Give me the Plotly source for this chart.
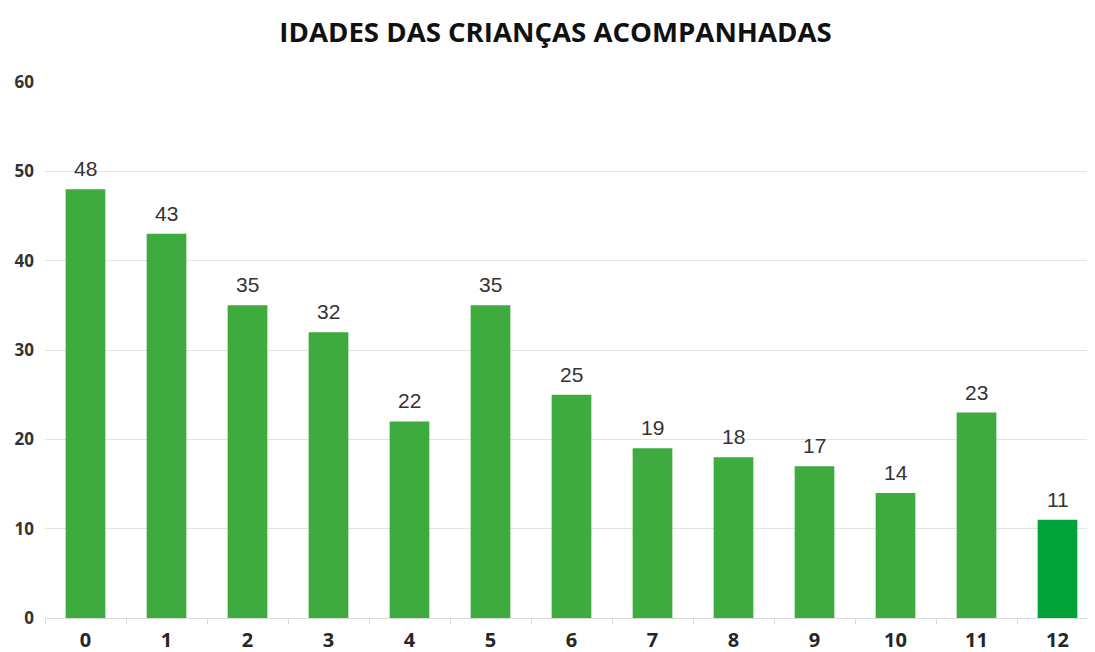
import plotly.graph_objects as go

ages = ["0", "1", "2", "3", "4", "5", "6", "7", "8", "9", "10", "11", "12"]
counts = [48, 43, 35, 32, 22, 35, 25, 19, 18, 17, 14, 23, 11]
bar_colors = ["#3dab3d"] * 12 + ["#00a33a"]
y_ticks = [0, 10, 20, 30, 40, 50, 60]

fig = go.Figure(go.Bar(
    x=ages, y=counts,
    marker=dict(color=bar_colors, line=dict(width=0)),
    width=0.49,
    hoverinfo="x+y",
))

for a, c in zip(ages, counts):
    fig.add_annotation(
        x=a, y=c, text=str(c), showarrow=False,
        xanchor="center", yanchor="bottom", yshift=7,
        font=dict(family="Liberation Sans, Arial", size=21, color="#333333"),
    )

fig.update_layout(
    width=1095, height=652,
    margin=dict(l=37, r=5, t=74, b=42),
    paper_bgcolor="white", plot_bgcolor="white",
    title=dict(text="<b>IDADES DAS CRIANÇAS ACOMPANHADAS</b>",
               x=0.5, xanchor="center", y=0.963, yanchor="middle",
               font=dict(family="Open Sans, Liberation Sans", size=27.6, color="#111111")),
    showlegend=False,
    xaxis=dict(
        type="category",
        showline=True, linecolor="#d9d9d9", linewidth=1,
        ticks="outside", tickson="boundaries", ticklen=5, tickcolor="#d9d9d9",
        ticklabelstandoff=4,
        tickfont=dict(family="Open Sans, Liberation Sans", size=20, color="#262626", weight="bold"),
        showgrid=False,
    ),
    yaxis=dict(
        range=[0, 60], tickvals=y_ticks,
        showgrid=True, gridcolor="#e3e3e3", gridwidth=1,
        zeroline=False,
        ticks="", ticklabelstandoff=10,
        tickfont=dict(family="Open Sans, Liberation Sans", size=17, color="#333333", weight="bold"),
    ),
)

fig.write_html("out.html")
